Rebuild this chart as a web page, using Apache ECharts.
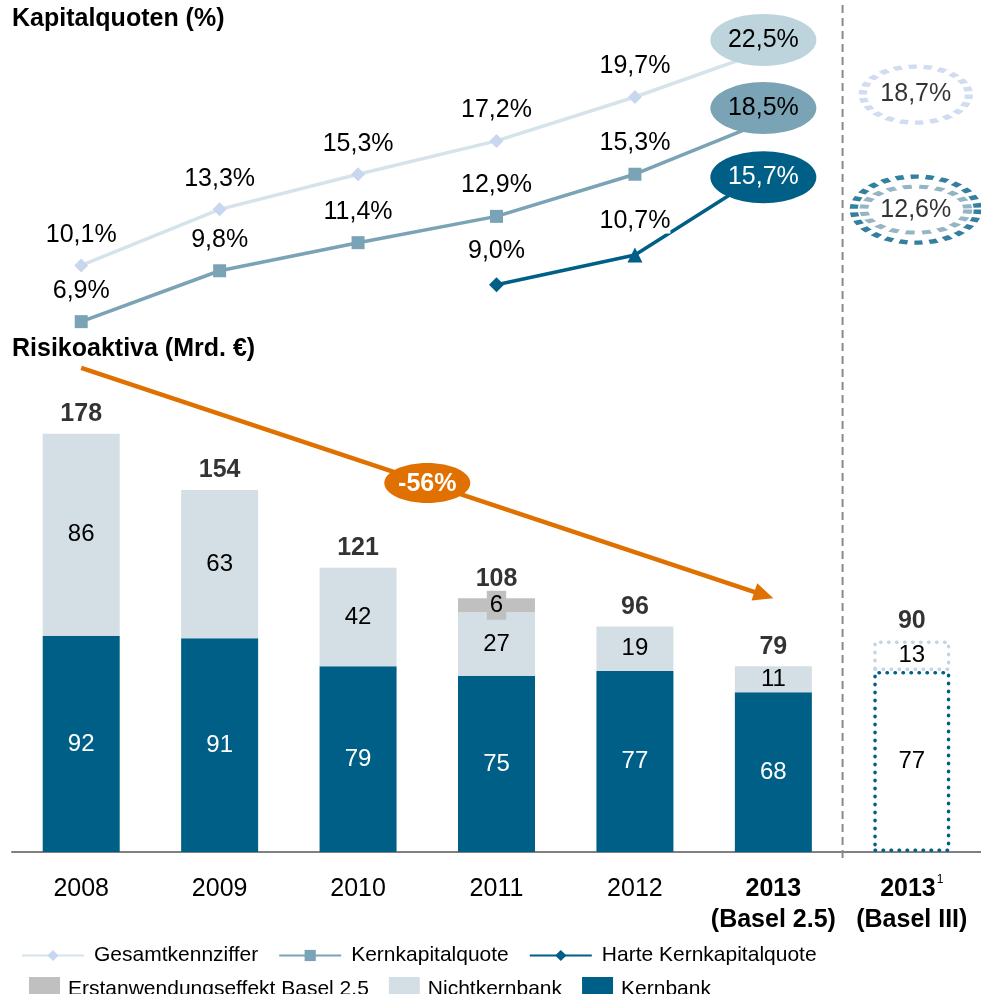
<!DOCTYPE html>
<html>
<head>
<meta charset="utf-8">
<script src="https://cdn.jsdelivr.net/npm/echarts@6/dist/echarts.min.js"></script>
<style>
  html, body { margin: 0; padding: 0; background: #fff; }
  #chart { width: 981px; height: 994px; }
</style>
</head>
<body>
<div id="chart"></div>
<script>
// categories
const years = ['2008', '2009', '2010', '2011', '2012', '2013 (Basel 2.5)', '2013 (Basel III)'];

// Kapitalquoten (%)
const gesamt = [10.1, 13.3, 15.3, 17.2, 19.7, 22.5, null];
const kernkapital = [6.9, 9.8, 11.4, 12.9, 15.3, 18.5, null];
const harteKern = [null, null, null, 9.0, 10.7, 15.7, null];
const basel3Gesamt = 18.7;
const basel3Kern = 12.6;

// Risikoaktiva (Mrd. €)
const kernbank = [92, 91, 79, 75, 77, 68, 77];
const nichtkernbank = [86, 63, 42, 27, 19, 11, 13];
const erstanwendung = [null, null, null, 6, null, null, null];
const totals = [178, 154, 121, 108, 96, 79, 90];
const reduction = '-56%';

const FONT = 'Liberation Sans, Arial, sans-serif';
const C_DARK = '#005f87';
const C_MID = '#7aa3b5';
const C_LIGHT = '#d3dfe5';
const C_GREY = '#c0c0c0';
const C_ORANGE = '#e07000';

const pct = v => v.toFixed(1).replace('.', ',') + '%';

// line data, the 2013 point becomes an ellipse
function lineData(arr, fill, textColor, offset) {
  return arr.map((v, i) => {
    if (i !== 5 || v == null) return v;
    return {
      value: v,
      symbol: 'circle',
      symbolSize: [106, 52],
      symbolOffset: offset,
      itemStyle: { color: fill },
      label: { position: 'inside', color: textColor, backgroundColor: 'transparent', distance: 0 }
    };
  });
}

const chart = echarts.init(document.getElementById('chart'));

const option = {
  animation: false,
  textStyle: { fontFamily: FONT, color: '#000' },
  title: [
    { text: 'Kapitalquoten (%)', left: 12, top: 7, padding: 0,
      textStyle: { fontSize: 25, fontWeight: 'bold', color: '#000', fontFamily: FONT } },
    { text: 'Risikoaktiva (Mrd. €)', left: 12, top: 337, padding: 0,
      textStyle: { fontSize: 25, fontWeight: 'bold', color: '#000', fontFamily: FONT } }
  ],
  legend: [
    {
      data: ['Gesamtkennziffer', 'Kernkapitalquote', 'Harte Kernkapitalquote'],
      left: 16, top: 940, itemWidth: 62, itemHeight: 14, itemGap: 20,
      selectedMode: false,
      textStyle: { fontSize: 21, color: '#000', padding: [0, 0, 0, 5] }
    },
    {
      data: ['Erstanwendungseffekt Basel 2.5', 'Nichtkernbank', 'Kernbank'],
      left: 24, top: 972, itemWidth: 31, itemHeight: 24, itemGap: 20, icon: 'rect',
      selectedMode: false,
      textStyle: { fontSize: 21, color: '#000', padding: [0, 0, 0, 3] }
    }
  ],
  grid: [
    { left: 12, right: 0, top: 382, bottom: 142 },
    { left: 12, right: 0, top: 4, height: 351 }
  ],
  xAxis: [
    {
      type: 'category', gridIndex: 0, data: years,
      axisLine: { lineStyle: { color: '#808080', width: 2 } },
      axisTick: { length: 10, lineStyle: { color: '#808080', width: 2 } },
      axisLabel: {
        margin: 22, interval: 0,
        formatter: (v, i) => {
          const parts = v.split(' ');
          if (i === 5) return '{b|' + parts[0] + '}\n{b|' + parts.slice(1).join(' ') + '}';
          if (i === 6) return '{b|' + parts[0] + '}{sup|1}\n{b|' + parts.slice(1).join(' ') + '}';
          return '{n|' + v + '}';
        },
        rich: {
          n: { fontSize: 25, color: '#000', lineHeight: 31, fontFamily: FONT },
          b: { fontSize: 25, fontWeight: 'bold', color: '#000', lineHeight: 31, fontFamily: FONT },
          sup: { fontSize: 12, color: '#000', verticalAlign: 'top', lineHeight: 31, padding: [0, 0, 14, 1], fontFamily: FONT }
        }
      }
    },
    { type: 'category', gridIndex: 1, data: years, show: false }
  ],
  yAxis: [
    { type: 'value', gridIndex: 0, min: 0, max: 200, show: false, splitLine: { show: false } },
    { type: 'value', gridIndex: 1, min: 5, max: 25, show: false, splitLine: { show: false } }
  ],
  series: [
    {
      name: 'Kernbank', type: 'bar', stack: 'rwa', xAxisIndex: 0, yAxisIndex: 0,
      barWidth: 77,
      itemStyle: { color: C_DARK },
      label: { show: true, position: 'inside', fontSize: 24, color: '#fff' },
      data: kernbank.map((v, i) => i === 6 ? {
        value: v,
        itemStyle: { color: 'rgba(0,0,0,0)', borderColor: C_DARK, borderWidth: 3.5, borderType: [0.5, 7.5], borderCap: 'round' },
        label: { color: '#000' }
      } : v)
    },
    {
      name: 'Nichtkernbank', type: 'bar', stack: 'rwa', xAxisIndex: 0, yAxisIndex: 0,
      barWidth: 77,
      itemStyle: { color: C_LIGHT },
      label: { show: true, position: 'inside', fontSize: 24, color: '#000' },
      data: nichtkernbank.map((v, i) => i === 6 ? {
        value: v,
        itemStyle: { color: 'rgba(0,0,0,0)', borderColor: '#c3d5de', borderWidth: 3.5, borderType: [0.5, 7.5], borderCap: 'round' }
      } : v)
    },
    {
      name: 'Erstanwendungseffekt Basel 2.5', type: 'bar', stack: 'rwa', xAxisIndex: 0, yAxisIndex: 0,
      barWidth: 77,
      itemStyle: { color: C_GREY },
      label: { show: true, position: 'inside', fontSize: 24, color: '#000', backgroundColor: C_GREY, padding: [3, 3, 2, 3] },
      data: erstanwendung
    },
    {
      name: 'Summe', type: 'scatter', xAxisIndex: 0, yAxisIndex: 0,
      symbolSize: 0, z: 5,
      label: { show: true, position: 'top', distance: 7, fontSize: 25, fontWeight: 'bold', color: '#000',
        formatter: p => p.value[1] },
      data: totals.map((v, i) => [years[i], v])
    },
    {
      name: 'Gesamtkennziffer', type: 'line', xAxisIndex: 1, yAxisIndex: 1,
      symbol: 'diamond', symbolSize: 14, z: 3,
      lineStyle: { color: '#d6e3ea', width: 3.5 },
      itemStyle: { color: '#c8d7ee' },
      label: { show: true, position: 'top', distance: 11, fontSize: 25, color: '#000', formatter: p => pct(p.value) },
      data: lineData(gesamt, '#bed4dc', '#000', [-10, -8])
    },
    {
      name: 'Kernkapitalquote', type: 'line', xAxisIndex: 1, yAxisIndex: 1,
      symbol: 'rect', symbolSize: 13, z: 3,
      lineStyle: { color: C_MID, width: 3.5 },
      itemStyle: { color: C_MID },
      label: { show: true, position: 'top', distance: 12, fontSize: 25, color: '#000', formatter: p => pct(p.value) },
      data: lineData(kernkapital, C_MID, '#000', [-10, -10])
    },
    {
      name: 'Harte Kernkapitalquote', type: 'line', xAxisIndex: 1, yAxisIndex: 1,
      symbol: 'diamond', symbolSize: 15, z: 3,
      lineStyle: { color: C_DARK, width: 3.5 },
      itemStyle: { color: C_DARK },
      label: { show: true, position: 'top', distance: 14, fontSize: 25, color: '#000', backgroundColor: '#fff',
        formatter: p => pct(p.value) },
      data: lineData(harteKern, C_DARK, '#fff', [-10, 10]).map((d, i) => i === 4 ? { value: d, symbol: 'triangle', symbolSize: 15 } : d)
    },
    {
      name: 'Basel III', type: 'scatter', xAxisIndex: 1, yAxisIndex: 1, z: 4,
      symbol: 'circle',
      label: { show: false, position: 'inside', fontSize: 25, color: '#000', formatter: p => pct(p.value[1]) },
      data: [
        { value: [years[6], basel3Gesamt], symbolSize: [106, 56], symbolOffset: [4, -20],
          itemStyle: { color: 'rgba(0,0,0,0)', borderColor: '#c3d3ee', borderWidth: 6, borderType: [6, 5] },
          label: { show: true } },
        { value: [years[6], basel3Kern], symbolSize: [124, 66], symbolOffset: [4, -12],
          itemStyle: { color: 'rgba(0,0,0,0)', borderColor: C_DARK, borderWidth: 6, borderType: [6, 5] } },
        { value: [years[6], basel3Kern], symbolSize: [104, 46], symbolOffset: [4, -12],
          itemStyle: { color: 'rgba(0,0,0,0)', borderColor: C_MID, borderWidth: 6, borderType: [6, 5] },
          label: { show: true } }
      ]
    }
  ]
};

chart.setOption(option);

// separator between the Basel 2.5 and Basel III columns, the trend arrow and its -56% tag
const p5 = chart.convertToPixel({ gridIndex: 0 }, [years[5], 0]);
const p6 = chart.convertToPixel({ gridIndex: 0 }, [years[6], 0]);
const sepX = (p5[0] + p6[0]) / 2;
const a0 = chart.convertToPixel({ gridIndex: 0 }, [years[0], 206]);
const a1 = chart.convertToPixel({ gridIndex: 0 }, [years[5], 108]);
const mx = (a0[0] + a1[0]) / 2;
const my = (a0[1] + a1[1]) / 2;
const dx = a1[0] - a0[0], dy = a1[1] - a0[1];
const len = Math.sqrt(dx * dx + dy * dy);
const ux = dx / len, uy = dy / len;
const headL = 20, headW = 9;
const bx = a1[0] - ux * headL, by = a1[1] - uy * headL;

chart.setOption({
  graphic: [
    {
      type: 'line', silent: true, z: 1,
      shape: { x1: sepX, y1: 5, x2: sepX, y2: p5[1] + 7 },
      style: { stroke: '#8a8a8a', lineWidth: 2, lineDash: [8, 5] }
    },
    {
      type: 'line', silent: true, z: 9,
      shape: { x1: a0[0], y1: a0[1], x2: bx + ux * 2, y2: by + uy * 2 },
      style: { stroke: C_ORANGE, lineWidth: 4.5 }
    },
    {
      type: 'polygon', silent: true, z: 9,
      shape: { points: [[a1[0], a1[1]], [bx - uy * headW, by + ux * headW], [bx + uy * headW, by - ux * headW]] },
      style: { fill: C_ORANGE }
    },
    {
      type: 'ellipse', silent: true, z: 10,
      shape: { cx: mx, cy: my, rx: 43, ry: 20 },
      style: { fill: C_ORANGE }
    },
    {
      type: 'text', silent: true, z: 11, x: mx, y: my + 1,
      style: { text: reduction, fill: '#fff', fontSize: 25, fontWeight: 'bold', fontFamily: FONT,
        align: 'center', verticalAlign: 'middle' }
    }
  ]
});
</script>
</body>
</html>
